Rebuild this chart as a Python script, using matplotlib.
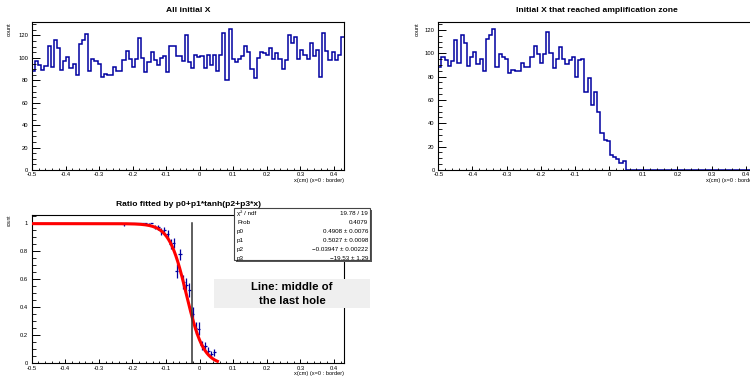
import numpy as np
import matplotlib
matplotlib.use("Agg")
import matplotlib.pyplot as plt
from matplotlib.patches import Rectangle
from matplotlib.ticker import MultipleLocator, FuncFormatter

plt.rcParams['font.family'] = ['Liberation Sans', 'DejaVu Sans']
plt.rcParams['axes.unicode_minus'] = False

# --- data ------------------------------------------------------------------
x_lo, x_hi = -0.5, 0.43
n_bins = 100

all_counts = [88, 97, 94, 89, 93, 111, 92, 116, 109, 89,
              97, 101, 91, 95, 85, 112, 116, 121, 88, 99,
              97, 95, 83, 86, 85, 85, 92, 88, 88, 98,
              106, 99, 92, 99, 118, 100, 87, 96, 105, 98,
              94, 100, 102, 87, 111, 111, 102, 102, 97, 120,
              96, 91, 103, 101, 102, 91, 103, 94, 103, 88,
              103, 122, 80, 126, 99, 96, 99, 102, 111, 105,
              90, 82, 100, 105, 104, 103, 109, 99, 104, 99,
              90, 98, 120, 113, 119, 99, 107, 103, 99, 113,
              102, 107, 83, 122, 106, 98, 105, 98, 103, 119]

reached_counts = [88, 97, 94, 89, 93, 111, 92, 116, 109, 89,
                  97, 101, 91, 95, 85, 112, 116, 121, 88, 99,
                  97, 95, 83, 86, 85, 85, 92, 88, 88, 97,
                  106, 99, 92, 99, 118, 100, 87, 95, 105, 95,
                  91, 94, 97, 80, 94, 95, 67, 79, 56, 67,
                  50, 32, 26, 25, 13, 11, 9, 6, 8, 0,
                  0, 0, 0, 0, 0, 0, 0, 0, 0, 0,
                  0, 0, 0, 0, 0, 0, 0, 0, 0, 0,
                  0, 0, 0, 0, 0, 0, 0, 0, 0, 0,
                  0, 0, 0, 0, 0, 0, 0, 0, 0, 0]

# fit result (curve as drawn: p0 + p1*tanh(p3*(x - p2)))
p0, p1, p2, p3 = 0.4908, 0.5027, -0.03947, -19.53
fit_x_max = 0.053
hole_x = -0.0227

stat_names = ["χ² / ndf", "Prob", "p0", "p1", "p2", "p3"]
stat_values = ["19.78 / 19", "0.4079", "0.4908 ± 0.0076", "0.5027 ± 0.0098",
               "−0.03947 ± 0.00222", "−19.53 ± 1.29"]

# --- layout helpers (pixel coords of the 750x377 canvas) --------------------
W, H = 750, 377
NAVY = "#0000a0"


def rect(x0, y0, x1, y1):
    return [x0 / W, 1 - y1 / H, (x1 - x0) / W, (y1 - y0) / H]


def fx(x):
    return x / W


def fy(y):
    return 1 - y / H


def fmt(v, pos):
    return f"{round(v, 3) + 0:g}"


def style_axis(ax, ymax, ymaj, ymin):
    ax.set_xlim(x_lo, x_hi)
    ax.set_ylim(0, ymax)
    ax.xaxis.set_major_locator(MultipleLocator(0.1))
    ax.xaxis.set_minor_locator(MultipleLocator(0.02))
    ax.yaxis.set_major_locator(MultipleLocator(ymaj))
    ax.yaxis.set_minor_locator(MultipleLocator(ymin))
    ax.xaxis.set_major_formatter(FuncFormatter(fmt))
    ax.yaxis.set_major_formatter(FuncFormatter(fmt))
    ax.tick_params(axis="x", which="major", direction="in", length=3.0,
                   width=0.7, labelsize=4.2, pad=1.6)
    ax.tick_params(axis="x", which="minor", direction="in", length=1.5, width=0.6)
    ax.tick_params(axis="y", which="major", direction="in", length=5.5,
                   width=0.7, labelsize=4.2, pad=2.6)
    ax.tick_params(axis="y", which="minor", direction="in", length=2.8, width=0.6)
    for s in ax.spines.values():
        s.set_linewidth(0.8)


fig = plt.figure(figsize=(7.5, 3.77), dpi=100)
edges = np.linspace(x_lo, x_hi, n_bins + 1)
centers = 0.5 * (edges[:-1] + edges[1:])
bin_w = edges[1] - edges[0]

# top left: all initial X
ax1 = fig.add_axes(rect(32, 21.7, 344, 170))
ax1.stairs(all_counts, edges, baseline=None, color=NAVY, lw=1.1)
style_axis(ax1, 1.05 * max(all_counts), 20, 5)
fig.text(fx(188), fy(10), "All initial X", ha="center", va="center",
         fontsize=6.1, fontweight="bold")
fig.text(fx(9), fy(22), "count", rotation=90, ha="center", va="top", fontsize=4)
fig.text(fx(344), fy(181), "x(cm) (x=0 : border)", ha="right", va="center",
         fontsize=4.1)

# top right: reached amplification zone
ax2 = fig.add_axes(rect(438.3, 21.7, 756, 170))
ax2.stairs(reached_counts, edges, baseline=None, color=NAVY, lw=1.1)
style_axis(ax2, 1.05 * max(reached_counts), 20, 5)
fig.text(fx(597), fy(10), "Initial X that reached amplification zone",
         ha="center", va="center", fontsize=6.1, fontweight="bold")
fig.text(fx(417), fy(22), "count", rotation=90, ha="center", va="top", fontsize=4)
fig.text(fx(756), fy(181), "x(cm) (x=0 : border)", ha="right", va="center",
         fontsize=4.1)

# bottom left: ratio with fit
all_arr = np.array(all_counts, dtype=float)
reach_arr = np.array(reached_counts, dtype=float)
ratio = reach_arr / all_arr
err = np.sqrt(ratio * (1 - ratio) / all_arr)
shown = ratio > 0

ax3 = fig.add_axes(rect(31.7, 215, 344, 363.3))
ax3.errorbar(centers[shown], ratio[shown], yerr=err[shown], xerr=bin_w / 2,
             fmt="none", ecolor=NAVY, elinewidth=0.9, capsize=0, zorder=2)
xf = np.linspace(x_lo, fit_x_max, 300)
ax3.plot(xf, p0 + p1 * np.tanh(p3 * (xf - p2)), color="#ff0000", lw=2.2, zorder=3)
ax3.plot([hole_x, hole_x], [0, 1.0], color="#333333", lw=1.1, zorder=4)
style_axis(ax3, 1.055, 0.2, 0.05)
fig.text(fx(188), fy(204), "Ratio fitted by p0+p1*tanh(p2+p3*x)",
         ha="center", va="center", fontsize=6.1, fontweight="bold")
fig.text(fx(9), fy(215), "count", rotation=90, ha="center", va="top", fontsize=3.3)
fig.text(fx(344), fy(373), "x(cm) (x=0 : border)", ha="right", va="center",
         fontsize=4.1)

# stats box with shadow
bx0, by0, bx1, by1 = 234, 208, 370, 260
fig.patches.append(Rectangle((fx(bx0 + 2), fy(by1 + 2)), (bx1 - bx0) / W,
                             (by1 - by0) / H, transform=fig.transFigure,
                             facecolor="#555555", edgecolor="none", zorder=10))
fig.patches.append(Rectangle((fx(bx0), fy(by1)), (bx1 - bx0) / W,
                             (by1 - by0) / H, transform=fig.transFigure,
                             facecolor="white", edgecolor="#444444", lw=0.8,
                             zorder=11))
for i, (name, val) in enumerate(zip(stat_names, stat_values)):
    yy = 213.3 + i * 9.0
    fig.text(fx(237), fy(yy), name, ha="left", va="center", fontsize=4.5, zorder=12)
    fig.text(fx(368), fy(yy), val, ha="right", va="center", fontsize=4.5, zorder=12)

# note box
fig.patches.append(Rectangle((fx(214), fy(308)), (370 - 214) / W, (308 - 279) / H,
                             transform=fig.transFigure, facecolor="#efefef",
                             edgecolor="none", zorder=10))
fig.text(fx(292), fy(287.5), "Line: middle of", ha="center", va="center",
         fontsize=8.2, fontweight="bold", zorder=12)
fig.text(fx(292), fy(300.5), "the last hole", ha="center", va="center",
         fontsize=8.2, fontweight="bold", zorder=12)

fig.savefig("out.png", dpi=100)
